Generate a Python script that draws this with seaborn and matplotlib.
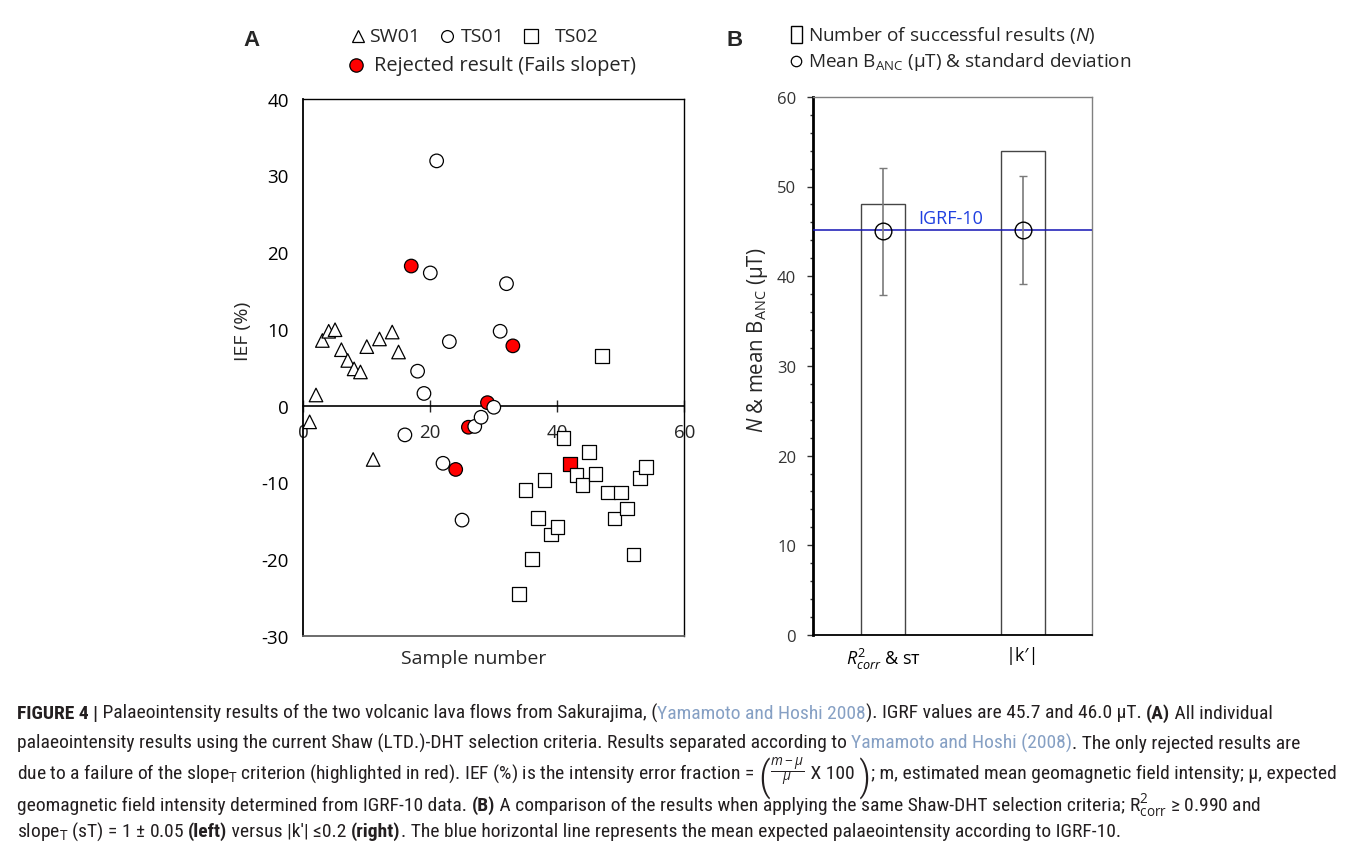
import numpy as np
import pandas as pd
import matplotlib
matplotlib.use('Agg')
import matplotlib.pyplot as plt
import seaborn as sns
from matplotlib.lines import Line2D
from matplotlib.patches import Rectangle
from matplotlib import font_manager as fm

# ---- panel A data: sample number vs IEF (%) per lava flow
sw01_sample = [1, 2, 3, 4, 5, 6, 7, 8, 9, 10, 11, 12, 14, 15]
sw01_ief = [-2.1, 1.4, 8.5, 9.7, 9.9, 7.3, 5.9, 4.8, 4.4, 7.7, -7.0, 8.7, 9.6, 7.0]
ts01_sample = [16, 17, 18, 19, 20, 21, 22, 23, 24, 25, 26, 27, 28, 29, 30, 31, 32, 33]
ts01_ief = [-3.8, 18.2, 4.5, 1.6, 17.3, 31.9, -7.5, 8.35, -8.3, -14.9, -2.8, -2.7, -1.5, 0.4, -0.2, 9.7, 15.9, 7.8]
ts02_sample = [34, 35, 36, 37, 38, 39, 40, 41, 42, 43, 44, 45, 46, 47, 48, 49, 50, 51, 52, 53, 54]
ts02_ief = [-24.5, -11.0, -20.0, -14.6, -9.7, -16.8, -15.8, -4.2, -7.6, -9.0, -10.3, -6.0, -8.9, 6.5,
            -11.3, -14.7, -11.3, -13.4, -19.4, -9.4, -8.0]
rejected_samples = [17, 24, 26, 29, 33, 42]  # fail slopeT

# ---- panel B data
criteria = ['$R^2_{corr}$ & sт', '|k′|']
n_success = [48, 54]
mean_banc = [45.0, 45.15]
sd_banc = [7.1, 6.0]
igrf_mean = 45.1

sns.set_style('white')
plt.rcParams['font.family'] = ['Open Sans', 'DejaVu Sans']
plt.rcParams['mathtext.fontset'] = 'custom'
plt.rcParams['mathtext.rm'] = 'Open Sans'
plt.rcParams['mathtext.it'] = 'Open Sans:italic'
plt.rcParams['mathtext.bf'] = 'Open Sans:bold'
plt.rcParams['axes.unicode_minus'] = False

W, H = 1356, 854
fig = plt.figure(figsize=(W / 100, H / 100), dpi=100)


def fx(px):
    return px / W


def fy(py):
    return 1 - py / H


# ================= panel A =================
df = pd.DataFrame({
    'sample': sw01_sample + ts01_sample + ts02_sample,
    'ief': sw01_ief + ts01_ief + ts02_ief,
    'flow': ['SW01'] * len(sw01_sample) + ['TS01'] * len(ts01_sample) + ['TS02'] * len(ts02_sample),
})
df['status'] = np.where(df['sample'].isin(rejected_samples), 'rejected', 'ok')

axA = fig.add_axes([fx(303.3), fy(637), fx(684.3) - fx(303.3), (637 - 99.7) / H])
sns.scatterplot(data=df, x='sample', y='ief', hue='status', style='flow',
                markers={'SW01': '^', 'TS01': 'o', 'TS02': 's'},
                palette={'ok': 'white', 'rejected': 'red'},
                s=95, edgecolor='black', linewidth=0.9, legend=False, ax=axA, zorder=3)
axA.set_xlim(0, 60)
axA.set_ylim(-30, 40)
axA.set_yticks(range(-30, 41, 10))
axA.set_xticks([])
axA.set_xlabel('')
axA.set_ylabel('')
axA.tick_params(axis='y', direction='inout', length=9, width=1, labelsize=13.5, pad=6, colors='black')
for s in ['left', 'top', 'right']:
    axA.spines[s].set_color('black')
    axA.spines[s].set_linewidth(1)
axA.spines['left'].set_linewidth(1.3)
axA.spines['bottom'].set_color('#606060')
axA.spines['bottom'].set_linewidth(1.3)

# x axis drawn along IEF = 0
secx = axA.secondary_xaxis(30 / 70)
secx.set_xticks([0, 20, 40, 60])
secx.tick_params(direction='inout', length=9, width=1, labelsize=13.5, pad=8)
secx.spines['bottom'].set_linewidth(1.2)
secx.spines['bottom'].set_color('black')

fig.text(fx(243), fy(331), 'IEF (%)', rotation=90, ha='center', va='center', fontsize=14)
fig.text(fx(474), fy(659), 'Sample number', ha='center', va='center', fontsize=14)
fig.text(fx(251), fy(40), 'A', ha='center', va='center', fontsize=16, fontweight='bold',
         family='Liberation Sans')

# legend A
for mk, xc, ms in [('^', 358, 8.5), ('o', 447, 8.5), ('s', 531, 9.5)]:
    fig.add_artist(Line2D([fx(xc)], [fy(37)], marker=mk, ms=ms, mfc='white', mec='black',
                          mew=0.9, linestyle='none', transform=fig.transFigure))
for txt, xs in [('SW01', 369), ('TS01', 461), ('TS02', 555)]:
    fig.text(fx(xs), fy(37), txt, ha='left', va='center', fontsize=14)
fig.add_artist(Line2D([fx(356)], [fy(66)], marker='o', ms=9.6, mfc='red', mec='black',
                      mew=0.9, linestyle='none', transform=fig.transFigure))
fig.text(fx(374), fy(66), 'Rejected result (Fails slopeт)', ha='left', va='center', fontsize=14.4)

# ================= panel B =================
axB = fig.add_axes([fx(812.7), fy(636), fx(1092.3) - fx(812.7), (636 - 97.8) / H])
sns.barplot(x=criteria, y=n_success, width=0.316, color='white', saturation=1,
            edgecolor='#454545', linewidth=1, ax=axB, zorder=2)
axB.axhline(igrf_mean, color='#1414b4', lw=1.1, zorder=3)
axB.errorbar([0, 1], mean_banc, yerr=sd_banc, fmt='o', ms=12, mfc='none', mec='black', mew=1,
             ecolor='#7a7a7a', elinewidth=1.2, capsize=3, capthick=1.2, zorder=4)
axB.text(0.25, 46.5, 'IGRF-10', color='#1f3fe0', fontsize=13, va='center', ha='left')
axB.set_xlim(-0.5065, 1.5)
axB.set_ylim(0, 60)
axB.set_yticks(range(0, 61, 10))
axB.set_yticks(range(0, 61, 2), minor=True)
axB.set_xticks([0, 1, 1.5], labels=criteria + [''])
axB.set_xlabel('')
axB.set_ylabel('')
axB.tick_params(axis='x', direction='in', length=4, width=1, labelsize=13, pad=8, colors='black')
axB.tick_params(axis='y', which='major', direction='out', length=4, width=1, labelsize=12,
                pad=8, colors='#333333', left=True)
axB.tick_params(axis='y', which='minor', direction='out', length=2.5, width=1, left=True,
                colors='#333333')
axB.spines['left'].set_linewidth(2)
axB.spines['left'].set_color('black')
axB.spines['bottom'].set_linewidth(1.3)
axB.spines['bottom'].set_color('black')
for s in ['top', 'right']:
    axB.spines[s].set_color('#808080')
    axB.spines[s].set_linewidth(1)

fig.text(fx(757), fy(340), r'$\mathit{N}$ & mean B$_{\mathrm{ANC}}$ (µT)', rotation=90,
         ha='center', va='center', fontsize=14.8)
fig.text(fx(735), fy(40), 'B', ha='center', va='center', fontsize=16, fontweight='bold',
         family='Liberation Sans')

# legend B
fig.add_artist(Rectangle((fx(791), fy(44)), 11 / W, 17 / H, fill=False, ec='black', lw=1,
                         transform=fig.transFigure))
fig.text(fx(808), fy(35), r'Number of successful results ($\mathit{N}$)', ha='left',
         va='center', fontsize=13.7)
fig.add_artist(Line2D([fx(795.5)], [fy(62)], marker='o', ms=7.5, mfc='white', mec='black',
                      mew=0.9, linestyle='none', transform=fig.transFigure))
fig.text(fx(808), fy(62), r'Mean B$_{\mathrm{ANC}}$ (µT) & standard deviation', ha='left',
         va='center', fontsize=13.7)

# ================= caption =================
def pick_caption_font():
    wanted = ['Liberation Sans Narrow', 'Roboto Condensed', 'Open Sans Condensed', 'DejaVu Sans']
    found = {}
    for f in fm.fontManager.ttflist:
        if f.style != 'normal':
            continue
        narrow = 'Narrow' in f.name or 'Condensed' in f.name or f.stretch in ('condensed', 'semi-condensed')
        if narrow and f.name in wanted:
            found.setdefault(f.name, f.stretch)
    for name in wanted:
        if name in found:
            return name, found[name]
    return 'Liberation Sans', 'normal'


cap_family, cap_stretch = pick_caption_font()
ref_col = '#86a0c4'
cap_lines = [
    [('FIGURE 4 |', 'b'), (' Palaeointensity results of the two volcanic lava flows from Sakurajima, (', ''),
     ('Yamamoto and Hoshi 2008', 'r'), ('). IGRF values are 45.7 and 46.0 µT. ', ''), ('(A)', 'b'),
     (' All individual', '')],
    [('palaeointensity results using the current Shaw (LTD.)-DHT selection criteria. Results separated according to ', ''),
     ('Yamamoto and Hoshi (2008)', 'r'), ('. The only rejected results are', '')],
    [(r'due to a failure of the slope$_{\mathrm{T}}$ criterion (highlighted in red). IEF (%) is the intensity error fraction = ', ''),
     ('(', 'p'), (r'$\frac{m-\mu}{\mu}$', ''), (' X 100 ', ''), (')', 'p'),
     ('; m, estimated mean geomagnetic field intensity; µ, expected', '')],
    [('geomagnetic field intensity determined from IGRF-10 data. ', ''), ('(B)', 'b'),
     (' A comparison of the results when applying the same Shaw-DHT selection criteria; ', ''),
     (r'R$^{2}_{\mathrm{corr}}$ ≥ 0.990 and', '')],
    [(r'slope$_{\mathrm{T}}$ (sT) = 1 ± 0.05 ', ''), ('(left)', 'b'), (' versus |k′| ≤0.2 ', ''),
     ('(right)', 'b'), ('. The blue horizontal line represents the mean expected palaeointensity according to IGRF-10.', '')],
]
cap_baselines = [719, 749, 779, 811, 837]
renderer = fig.canvas.get_renderer()


def seg_props(code, size):
    p = dict(family=[cap_family, 'DejaVu Sans'], fontstretch=cap_stretch, fontsize=size, color='#231f20')
    if code == 'b':
        p['fontweight'] = 'bold'
    if code == 'r':
        p['color'] = ref_col
    if code == 'p':
        p['fontsize'] = size * 2.1
        p['fontweight'] = 'light'
    return p


def seg_width(txt, props):
    a = fig.text(0, 0, '|' + txt + '|', **props)
    b = fig.text(0, 0, '||', **props)
    w = a.get_window_extent(renderer).width - b.get_window_extent(renderer).width
    a.remove()
    b.remove()
    return w


def caption_line(segs, x0, base_y, size, draw=True):
    x = x0
    for txt, code in segs:
        props = seg_props(code, size)
        dy = 11 if code == 'p' else 0
        if draw:
            fig.text(fx(x), fy(base_y + dy), txt, ha='left', va='baseline', **props)
        x += seg_width(txt, props)
    return x - x0


base_size = 11
widest = max(caption_line(segs, 17, 0, base_size, draw=False) for segs in cap_lines)
cap_size = base_size * (1330 - 17) / widest
for segs, by in zip(cap_lines, cap_baselines):
    caption_line(segs, 17, by, cap_size)

fig.savefig('out.png', dpi=100, facecolor='white')
